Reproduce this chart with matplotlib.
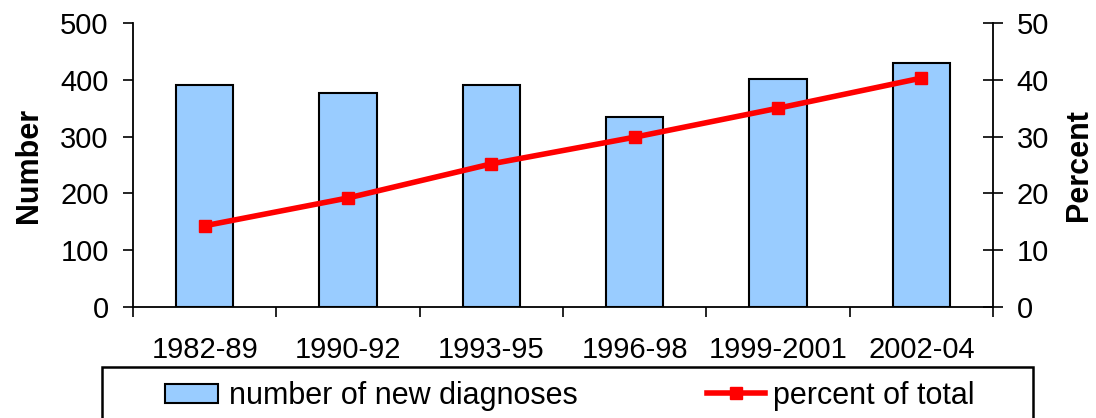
import matplotlib.pyplot as plt
from matplotlib.patches import Rectangle

plt.rcParams['font.family'] = ['Liberation Sans', 'DejaVu Sans']

# data
periods = ['1982-89', '1990-92', '1993-95', '1996-98', '1999-2001', '2002-04']
new_diagnoses = [390, 377, 390, 334, 401, 430]
percent_total = [14.3, 19.2, 25.2, 29.9, 35.0, 40.3]

fs = 21
fig = plt.figure(figsize=(10.96, 4.18), dpi=100)
ax = fig.add_axes([133 / 1096, 1 - 307 / 418, (993 - 133) / 1096, (307 - 23) / 418])
ax2 = ax.twinx()

x = list(range(len(periods)))
bars = ax.bar(x, new_diagnoses, width=0.4, color='#99ccff', edgecolor='black',
              linewidth=1.5, label='number of new diagnoses', zorder=2)
line, = ax2.plot(x, percent_total, color='#ff0000', linewidth=4, marker='s',
                 markersize=9, label='percent of total', zorder=3)

ax.set_xlim(-0.5, len(periods) - 0.5)
ax.set_ylim(0, 500)
ax.set_yticks(range(0, 501, 100))
ax2.set_ylim(0, 50)
ax2.set_yticks(range(0, 51, 10))

# ticks between categories, labels at centres
ax.set_xticks([i - 0.5 for i in range(len(periods) + 1)])
ax.set_xticklabels([])
ax.set_xticks(x, minor=True)
ax.set_xticklabels(periods, minor=True)
ax.tick_params(axis='x', which='major', direction='out', length=7.5, width=1.2)
ax.tick_params(axis='x', which='minor', length=0, pad=21, labelsize=fs)
ax.tick_params(axis='y', direction='out', length=7.5, width=1.2, pad=10, labelsize=fs)
ax2.tick_params(axis='y', direction='inout', length=14, width=1.2, pad=10, labelsize=fs)

for a in (ax, ax2):
    a.spines['top'].set_visible(False)
    for s in ('left', 'right', 'bottom'):
        a.spines[s].set_linewidth(1.3)
ax.spines['right'].set_visible(False)
ax2.spines['left'].set_visible(False)
ax2.spines['bottom'].set_visible(False)

ax.set_ylabel('Number', fontsize=22, fontweight='bold', labelpad=12)
ax2.set_ylabel('Percent', fontsize=22, fontweight='bold', rotation=90, labelpad=11)

# legend box running off the bottom of the picture
fig.patches.append(Rectangle((102 / 1096, -0.2), (1033 - 102) / 1096, 0.2 + 1 - 367 / 418,
                             transform=fig.transFigure, fill=False, edgecolor='black',
                             linewidth=1.8, clip_on=False))
leg_y = 1 - 396 / 418
fig.legend([bars], ['number of new diagnoses'], loc='center left',
           bbox_to_anchor=(165 / 1096, leg_y), frameon=False, fontsize=22,
           handlelength=1.75, handleheight=0.6, handletextpad=0.33,
           borderaxespad=0, borderpad=0)
fig.legend([line], ['percent of total'], loc='center left',
           bbox_to_anchor=(707 / 1096, leg_y), frameon=False, fontsize=22,
           handlelength=1.9, handletextpad=0.25, borderaxespad=0, borderpad=0)

fig.savefig('out.png', dpi=100)
